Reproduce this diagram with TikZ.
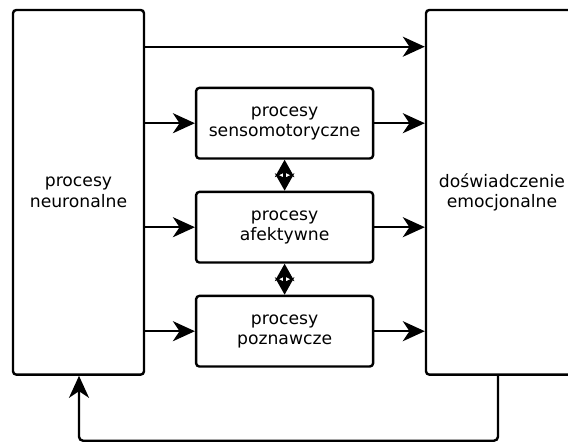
\documentclass[tikz,border=0pt]{standalone}
\usepackage{fontspec}
\setmainfont{DejaVu Sans}
\usetikzlibrary{arrows.meta,positioning}

\tikzset{
  blok/.style={draw, line width=1.8pt, rounded corners=2.5pt, align=center,
    font=\fontsize{12.9}{15.2}\selectfont},
  bigbox/.style={blok, minimum width=98.25pt, minimum height=273.5pt},
  procbox/.style={blok, minimum width=132.75pt, minimum height=53pt},
  strzalka/.style={line width=1.8pt, -{Stealth[length=16.5pt, width=15pt, inset=5pt]}},
  dwustr/.style={line width=1.8pt,
    {Stealth[length=13pt, width=14.5pt, inset=3.5pt]}-{Stealth[length=13pt, width=14.5pt, inset=3.5pt]}},
}

\begin{document}
\begin{tikzpicture}[x=0.75pt, y=-0.75pt]
  \useasboundingbox (0,0) rectangle (568,443);
  \clip (0,0) rectangle (568,443);

  \node[bigbox] (neuro) at (78.5,192.3) {procesy\\neuronalne};
  \node[bigbox, minimum width=114pt] (emocje) at (502,192.3) {doświadczenie\\emocjonalne};

  \node[procbox] (senso) at (284.6,123.2) {procesy\\sensomotoryczne};
  \node[procbox, below=23.2pt of senso] (afekt) {procesy\\afektywne};
  \node[procbox, below=23.2pt of afekt] (poznaw) {procesy\\poznawcze};

  \coordinate (gora) at (0,46.7);
  \coordinate (P1) at (498,440.7);
  \coordinate (P2) at (79,440.7);

  % Draw arrows from left box through middle boxes to right box
  \draw[strzalka] (neuro.east |- gora) -- (emocje.west |- gora);
  \foreach \n in {senso,afekt,poznaw} {
    \draw[strzalka] (neuro.east |- \n.west) -- (\n.west);
    \draw[strzalka] (\n.east) -- (emocje.west |- \n.east);
  }

  % Draw double arrows between middle boxes
  \draw[dwustr] (senso.south) -- (afekt.north);
  \draw[dwustr] (afekt.south) -- (poznaw.north);

  % Draw feedback loop
  \draw[strzalka, rounded corners=3pt] (emocje.south -| P1) -- (P1) -- (P2) -- (neuro.south -| P2);

\end{tikzpicture}
\end{document}
